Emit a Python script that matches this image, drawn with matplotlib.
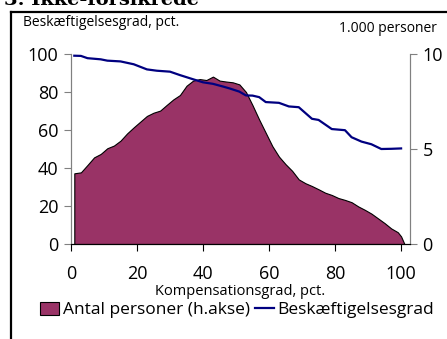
import matplotlib.pyplot as plt
from matplotlib.lines import Line2D
from matplotlib.patches import Patch

# Antal personer (1.000 personer, højre akse) fordelt på kompensationsgrad
komp_x = [1, 3, 5, 7, 9, 11, 13, 15, 17, 19, 21, 23, 25, 27, 29, 31, 33, 35,
          37, 39, 41, 43, 45, 47, 49, 51, 53, 55, 57, 59, 61, 63, 65, 67, 69,
          71, 73, 75, 77, 79, 81, 83, 85, 87, 89, 91, 93, 95, 97, 99, 100, 101]
antal = [3.72, 3.77, 4.16, 4.56, 4.74, 5.04, 5.18, 5.44, 5.82, 6.14, 6.44,
         6.74, 6.91, 7.02, 7.32, 7.61, 7.84, 8.33, 8.60, 8.68, 8.63, 8.81,
         8.60, 8.55, 8.51, 8.40, 8.00, 7.30, 6.55, 5.85, 5.15, 4.60, 4.20,
         3.85, 3.40, 3.20, 3.05, 2.88, 2.70, 2.58, 2.42, 2.32, 2.20, 1.98,
         1.80, 1.60, 1.35, 1.10, 0.82, 0.62, 0.40, 0.0]

# Beskæftigelsesgrad i pct. (venstre akse)
besk_x = [1, 3, 5, 9, 11, 15, 19, 23, 26, 30, 33, 37, 40, 43, 46, 48, 51, 53,
          55, 57, 59, 63, 66, 69, 73, 75, 79, 83, 85, 88, 91, 94, 97, 100]
besk = [99.1, 99.0, 97.8, 97.2, 96.5, 96.1, 94.6, 91.9, 91.2, 90.7, 88.9,
        86.7, 85.1, 84.3, 82.9, 81.9, 80.2, 78.2, 78.1, 77.3, 74.7, 74.3,
        72.4, 72.0, 65.9, 65.3, 60.5, 59.9, 56.2, 53.9, 52.5, 50.0, 50.1, 50.3]

x_ticks = [0, 20, 40, 60, 80, 100]
venstre_ticks = [0, 20, 40, 60, 80, 100]
hoejre_ticks = [0, 5, 10]

plt.rcParams['font.family'] = ['Open Sans', 'DejaVu Sans']
maroon = '#993366'
navy = '#000080'
grey = '#808080'

fig = plt.figure(figsize=(4.47, 3.39), dpi=100)
W, H = 447, 339

# ramme rundt om figuren
fig.add_artist(Line2D([11 / W, 11 / W], [0, 1 - 12 / H], color='black',
                      lw=1.6, transform=fig.transFigure))
fig.add_artist(Line2D([11 / W, 1], [1 - 12 / H, 1 - 12 / H], color='black',
                      lw=1.6, transform=fig.transFigure))
fig.text(4 / W, 1 - 5 / H, '3. Ikke-forsikrede', family='DejaVu Serif',
         weight='bold', fontsize=14, va='baseline', ha='left')

ax = fig.add_axes([71 / W, 1 - 244 / H, (410 - 71) / W, (244 - 54) / H])
ax2 = ax.twinx()
ax.set_zorder(ax2.get_zorder() + 1)
ax.patch.set_visible(False)

ax2.fill_between(komp_x, antal, 0, facecolor=maroon, edgecolor='black',
                 linewidth=0.8)
ax.plot(besk_x, besk, color=navy, lw=1.6)

ax.set_xlim(0, 102.7)
ax.set_ylim(0, 100)
ax2.set_ylim(0, 10)
ax.set_xticks(x_ticks)
ax.set_yticks(venstre_ticks)
ax2.set_yticks(hoejre_ticks)

for a in (ax, ax2):
    a.spines['top'].set_visible(False)
    a.spines['left'].set_color(grey)
    a.spines['right'].set_color(grey)
    a.spines['bottom'].set_color('black')
ax.tick_params(axis='y', direction='out', length=5, color=grey,
               labelsize=13, pad=4)
ax.tick_params(axis='x', direction='out', length=5, color='black',
               labelsize=13, pad=10)
ax2.tick_params(axis='y', direction='out', length=5, color=grey,
                labelsize=13, pad=4)

ax.set_xlabel('Kompensationsgrad, pct.', fontsize=10.5, labelpad=1)
fig.text(23 / W, 1 - 22 / H, 'Beskæftigelsesgrad, pct.', fontsize=10,
         va='center', ha='left')
fig.text(437 / W, 1 - 28 / H, '1.000 personer', fontsize=10,
         va='center', ha='right')

handles = [Patch(facecolor=maroon, edgecolor='black', linewidth=0.8),
           Line2D([], [], color=navy, lw=1.6)]
fig.legend(handles, ['Antal personer (h.akse)', 'Beskæftigelsesgrad'],
           loc='center', bbox_to_anchor=(237 / W, 1 - 310 / H), ncol=2,
           frameon=False, fontsize=12.5, handlelength=1.1, handleheight=0.8,
           handletextpad=0.2, columnspacing=0.3, borderpad=0)

fig.savefig('out.png', dpi=100)
